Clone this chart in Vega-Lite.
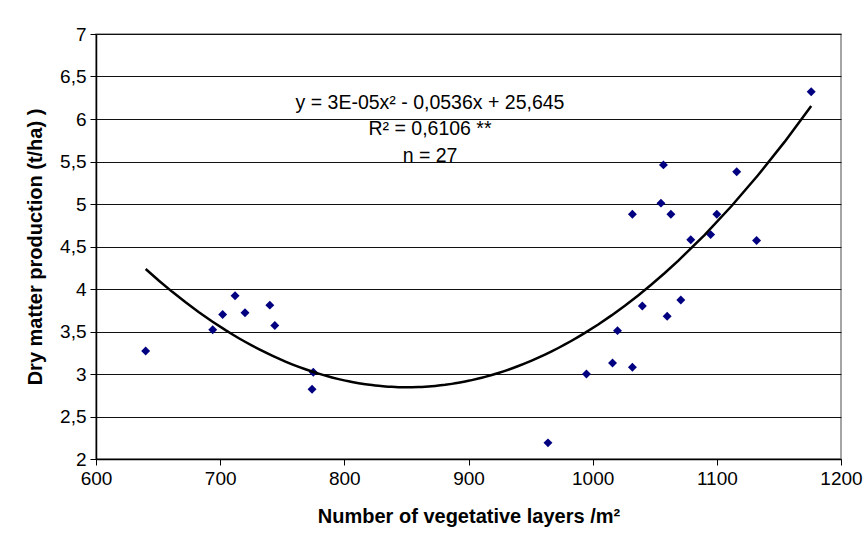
{
  "$schema": "https://vega.github.io/schema/vega-lite/v6.json",
  "width": 745,
  "height": 425,
  "autosize": "none",
  "padding": {"left": 96, "top": 34, "right": 24, "bottom": 83},
  "background": "white",
  "config": {
    "view": {"stroke": "#888888", "strokeWidth": 1.5},
    "font": "Liberation Sans"
  },
  "data": {
    "values": [
      {"x": 640, "y": 3.27},
      {"x": 694, "y": 3.52},
      {"x": 702, "y": 3.70},
      {"x": 712, "y": 3.92},
      {"x": 720, "y": 3.72},
      {"x": 740, "y": 3.81},
      {"x": 744, "y": 3.57},
      {"x": 775, "y": 3.02},
      {"x": 774, "y": 2.82},
      {"x": 964, "y": 2.19},
      {"x": 995, "y": 3.00},
      {"x": 1016, "y": 3.13},
      {"x": 1020, "y": 3.51},
      {"x": 1032, "y": 3.08},
      {"x": 1032, "y": 4.88},
      {"x": 1040, "y": 3.80},
      {"x": 1055, "y": 5.01},
      {"x": 1057, "y": 5.46},
      {"x": 1063, "y": 4.88},
      {"x": 1060, "y": 3.68},
      {"x": 1071, "y": 3.87},
      {"x": 1079, "y": 4.58},
      {"x": 1095, "y": 4.64},
      {"x": 1100, "y": 4.88},
      {"x": 1116, "y": 5.38},
      {"x": 1132, "y": 4.57},
      {"x": 1176, "y": 6.32}
    ]
  },
  "layer": [
    {
      "mark": {"type": "point", "shape": "diamond", "filled": true, "color": "#000080", "size": 80, "opacity": 1},
      "encoding": {
        "x": {
          "field": "x", "type": "quantitative",
          "scale": {"domain": [600, 1200], "nice": false, "zero": false},
          "axis": {
            "title": "Number of vegetative layers /m²",
            "titleFontSize": 20, "titleFontWeight": "bold", "titleColor": "black", "titlePadding": 18,
            "labelFontSize": 19, "labelColor": "black", "labelPadding": 4, "labelFlush": false,
            "format": "d",
            "values": [600, 700, 800, 900, 1000, 1100, 1200],
            "tickColor": "black", "tickSize": 6, "domainColor": "black", "domainWidth": 1.5, "grid": false
          }
        },
        "y": {
          "field": "y", "type": "quantitative",
          "scale": {"domain": [2, 7], "nice": false, "zero": false},
          "axis": {
            "title": "Dry matter production (t/ha) )",
            "titleFontSize": 20, "titleFontWeight": "bold", "titleColor": "black", "titlePadding": 14,
            "labelFontSize": 19, "labelColor": "black", "labelPadding": 4,
            "values": [2, 2.5, 3, 3.5, 4, 4.5, 5, 5.5, 6, 6.5, 7],
            "labelExpr": "replace(format(datum.value, '~g'), '.', ',')",
            "tickColor": "black", "tickSize": 6, "domainColor": "black", "domainWidth": 1.5,
            "grid": true, "gridColor": "#111111", "gridWidth": 1
          }
        }
      }
    },
    {
      "transform": [{"regression": "y", "on": "x", "method": "poly", "order": 2, "extent": [640, 1176]}],
      "mark": {"type": "line", "color": "black", "strokeWidth": 2.5},
      "encoding": {
        "x": {"field": "x", "type": "quantitative"},
        "y": {"field": "y", "type": "quantitative"}
      }
    },
    {
      "data": {"values": [{}]},
      "mark": {
        "type": "text",
        "text": ["y = 3E-05x² - 0,0536x + 25,645", "R² = 0,6106 **", "n = 27"],
        "fontSize": 19.5, "lineHeight": 26.5, "align": "center", "baseline": "middle", "color": "black"
      },
      "encoding": {
        "x": {"datum": 869},
        "y": {"datum": 6.19}
      }
    }
  ]
}
